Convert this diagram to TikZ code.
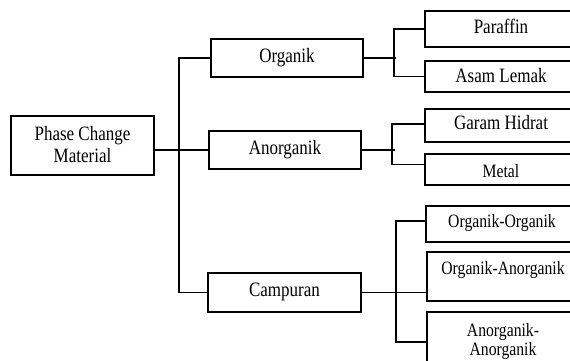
\documentclass[tikz,border=0pt]{standalone}
\usepackage{fontspec}
\setmainfont{Liberation Serif}
\newcommand{\vtext}[1]{\scalebox{1}[1.2]{\begin{tabular}{@{}c@{}}#1\end{tabular}}}
\newcommand{\shiftv}[2]{\raisebox{#1}[\height][\depth]{#2}}
\begin{document}
\begin{tikzpicture}[x=1pt,y=-1pt,
  box/.style={draw, line width=2.6pt, inner sep=0pt, align=center,
    font=\fontsize{17}{18.5}\selectfont},
  small/.style={font=\fontsize{15.7}{16.5}\selectfont},
  conn/.style={line width=1.9pt}]
\useasboundingbox (0,0) rectangle (570,360);
% level 0
\node[box, minimum width=143pt, minimum height=59pt] (pcm) at (82.5,145.5) {\shiftv{-1.5pt}{\vtext{Phase Change\\Material}}};
% level 1
\node[box, minimum width=152pt, minimum height=38pt] (org) at (287,58) {\vtext{Organik}};
\node[box, minimum width=152pt, minimum height=38pt] (anorg) at (285,150) {\vtext{Anorganik}};
\node[box, minimum width=153pt, minimum height=39pt] (camp) at (284.5,292.5) {\vtext{Campuran}};
% level 2
\node[box, minimum width=152pt, minimum height=36pt] (par) at (501,29) {\vtext{Paraffin}};
\node[box, minimum width=152pt, minimum height=31pt] (asam) at (501,76.5) {\shiftv{-1.5pt}{\vtext{Asam Lemak}}};
\node[box, minimum width=152pt, minimum height=33pt] (garam) at (501,125.5) {\vtext{Garam Hidrat}};
\node[box, small, minimum width=152pt, minimum height=31pt] (metal) at (501,169.5) {\shiftv{-4pt}{\vtext{Metal}}};
\node[box, small, minimum width=152pt, minimum height=36pt] (oo) at (502,224) {\vtext{Organik-Organik}};
\node[box, small, minimum width=152pt, minimum height=49pt] (oa) at (503,276.5) {\shiftv{6pt}{\vtext{Organik-Anorganik}}};
\node[box, small, minimum width=152pt, minimum height=60pt] (aa) at (503,342) {\vtext{Anorganik-\\Anorganik}};
% connectors
\draw[conn] (org.west) -- ++(-31,0) |- (camp.west);
\draw[conn] (pcm.east |- anorg.west) -- (anorg.west);
\draw[conn] (org.east) -- ++(32,0);
\draw[conn] (par.west) -- ++(-30,0) |- (asam.west);
\draw[conn] (anorg.east) -- ++(33,0);
\draw[conn] ([yshift=1.5pt]garam.west) -- ++(-32,0) |- ([yshift=5pt]metal.west);
\draw[conn] ([yshift=3pt]oo.west) -- ++(-29,0) |- (aa.west);
\draw[conn] (camp.east) -- (camp.east -| oa.west);
\end{tikzpicture}
\end{document}
